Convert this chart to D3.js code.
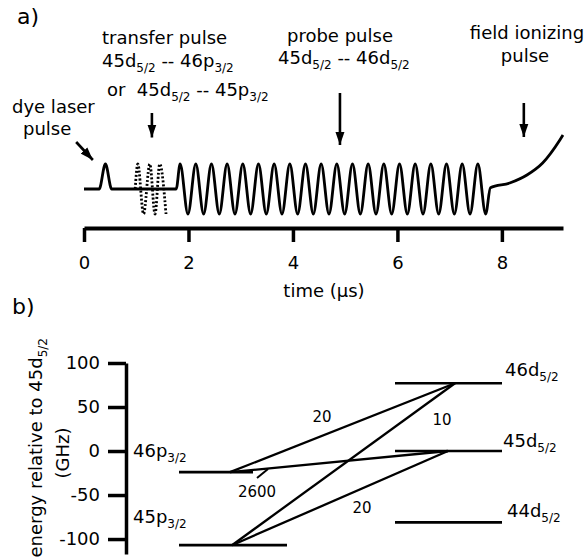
<!DOCTYPE html>
<html>
<head>
<meta charset="utf-8">
<script src="https://cdn.jsdelivr.net/npm/d3@7"></script>
<style>
body{margin:0;background:#fff;}
text{font-family:"DejaVu Sans",sans-serif;fill:#000;}
</style>
</head>
<body>
<div id="chart"></div>
<script>
// ---- panel a: pulse sequence (time in us, amplitude in arbitrary units)
var timeTicks = [0, 2, 4, 6, 8];
var dyeTrace = [[0,0],[0.29,0],[0.41,1],[0.53,0],[1.765,0]];
var transferTrace = [[0.98,0],[1.03,1],[1.14,-1],[1.26,1],[1.36,-1],[1.45,1],[1.57,-1]];
var probePeaks = [1.84,2.14,2.44,2.74,3.04,3.34,3.64,3.94,4.24,4.54,4.84,5.14,5.44,5.74,6.04,6.34,6.64,6.94,7.24,7.54];
var probeTroughs = [1.99,2.29,2.59,2.89,3.19,3.49,3.79,4.09,4.39,4.69,4.99,5.29,5.59,5.89,6.19,6.49,6.79,7.09,7.39,7.69];
var rampTrace = [[7.78,0.05],[8.15,0.24],[8.48,0.56],[8.78,1.04],[9.11,1.96],[9.17,2.16]];
// arrows: [t start, v start, t tip, v tip]
var pulseArrows = [[-0.15,1.88,0.17,1.16],[1.30,3.04,1.30,2.06],[4.90,3.84,4.90,1.76],[8.42,3.44,8.42,2.08]];

// ---- panel b: energy levels (GHz relative to 45d5/2)
var energyTicks = [-100, -50, 0, 50, 100];
var levelNames = ["46d","45d","44d","46p","45p"];
var levelSubs = ["5/2","5/2","5/2","3/2","3/2"];
var levelEnergy = [77, 0, -81, -24, -107];
var transitions = [["46p","46d"],["45p","46d"],["45p","45d"],["46p","45d"]];
var transitionLabels = ["20","10","20","2600"];

var W = 588, H = 560;
var svg = d3.select("#chart").append("svg").attr("width", W).attr("height", H);

svg.append("defs").append("marker")
    .attr("id","head")
    .attr("markerUnits","userSpaceOnUse")
    .attr("markerWidth",14).attr("markerHeight",10)
    .attr("refX",13).attr("refY",5)
    .attr("orient","auto")
  .append("path").attr("d","M0,0.5L13,5L0,9.5Z").attr("fill","#000");

// helper for text with subscripts
function subText(g, x, y, parts, size, anchor){
    var t = g.append("text").attr("x", x).attr("y", y)
        .style("font-size", size + "px").attr("text-anchor", anchor || "start")
        .style("white-space","pre");
    var prevSub = false;
    parts.forEach(function(p){
        var s = t.append("tspan").text(p[0]);
        if (p[1]) {
            s.style("font-size", "12px");
            if (!prevSub) s.attr("dy", 5);
        } else if (prevSub) {
            s.attr("dy", -5);
        }
        prevSub = p[1];
    });
    return t;
}

// ======== panel a ========
var x = d3.scaleLinear().domain([0, 9.17]).range([84, 563]);
var yw = d3.scaleLinear().domain([0, 1]).range([189, 164]);

var line = d3.line().x(function(d){return x(d[0]);}).y(function(d){return yw(d[1]);})
    .curve(d3.curveMonotoneX);

var osc = [];
probePeaks.forEach(function(p, i){
    osc.push([p, 1]);
    osc.push([probeTroughs[i], -1]);
});
var solidTrace = dyeTrace.concat(osc).concat(rampTrace);

svg.append("path").datum(solidTrace).attr("d", line)
    .attr("fill","none").attr("stroke","#000").attr("stroke-width",2.8)
    .attr("stroke-linejoin","round");

svg.append("path").datum(transferTrace).attr("d", line)
    .attr("fill","none").attr("stroke","#000").attr("stroke-width",2.8)
    .attr("stroke-dasharray","2,2");

svg.selectAll(".parrow").data(pulseArrows).enter().append("line")
    .attr("class","parrow")
    .attr("x1", function(d){return x(d[0]);})
    .attr("y1", function(d){return yw(d[1]);})
    .attr("x2", function(d){return x(d[2]);})
    .attr("y2", function(d){return yw(d[3]);})
    .attr("stroke","#000").attr("stroke-width",2.6)
    .attr("marker-end","url(#head)");

var xAxis = d3.axisBottom(x).tickValues(timeTicks).tickSize(14).tickSizeOuter(0).tickPadding(14)
    .tickFormat(function(d){return String(d);});
var gx = svg.append("g").attr("transform","translate(0,228)").call(xAxis);
gx.select(".domain").attr("stroke-width",4);
gx.selectAll(".tick line").attr("stroke-width",3.5);
gx.selectAll(".tick text").style("font-size","18px").style("font-family","DejaVu Sans");

svg.append("text").attr("x", 324).attr("y", 297).attr("text-anchor","middle")
    .style("font-size","18px").text("time (\u03bcs)");

svg.append("text").attr("x", 17).attr("y", 24).style("font-size","22px").text("a)");

// pulse annotations
svg.append("text").attr("x", 12).attr("y", 113).style("font-size","18px").text("dye laser");
svg.append("text").attr("x", 23).attr("y", 135).style("font-size","18px").text("pulse");

svg.append("text").attr("x", 102).attr("y", 44).style("font-size","18px").text("transfer pulse");
subText(svg, 102, 67, [["45d",false],["5/2",true],[" -- 46p",false],["3/2",true]], 18);
subText(svg, 107, 96, [["or  45d",false],["5/2",true],[" -- 45p",false],["3/2",true]], 18);

svg.append("text").attr("x", 287).attr("y", 42).style("font-size","18px").text("probe pulse");
subText(svg, 278, 64, [["45d",false],["5/2",true],[" -- 46d",false],["5/2",true]], 18);

svg.append("text").attr("x", 527).attr("y", 39).attr("text-anchor","middle").style("font-size","18px").text("field ionizing");
svg.append("text").attr("x", 525).attr("y", 62).attr("text-anchor","middle").style("font-size","18px").text("pulse");

// ======== panel b ========
var yE = d3.scaleLinear().domain([-117, 100]).range([554, 363]);

var yAxis = d3.axisLeft(yE).tickValues(energyTicks).tickSize(18).tickSizeOuter(0).tickPadding(8)
    .tickFormat(function(d){return String(d);});
var gy = svg.append("g").attr("transform","translate(126,0)").call(yAxis);
gy.select(".domain").attr("stroke-width",3.5);
gy.selectAll(".tick line").attr("stroke-width",3.5);
gy.selectAll(".tick text").style("font-size","18px").style("font-family","DejaVu Sans");

svg.append("text").attr("x", 12).attr("y", 314).style("font-size","22px").text("b)");

subText(svg.append("g").attr("transform","translate(42,338) rotate(-90)"), 0, 0,
    [["energy relative to 45d",false],["5/2",true]], 18, "end");
svg.append("text").attr("transform","translate(69,453) rotate(-90)")
    .attr("text-anchor","middle").style("font-size","18px").text("(GHz)");

// level layout (pixels)
var levelX0 = [395, 395, 395, 179, 179];
var levelX1 = [502, 502, 502, 253, 287];
var levelAnchor = [455, 448, 450, 230, 232];
var labelPos = [[505,376],[503,447],[507,517],[133,457],[133,523]];

var levels = levelNames.map(function(n, i){
    return {name:n, sub:levelSubs[i], e:levelEnergy[i], x0:levelX0[i], x1:levelX1[i], ax:levelAnchor[i], lp:labelPos[i]};
});
var byName = {};
levels.forEach(function(l){ byName[l.name] = l; });

svg.selectAll(".level").data(levels).enter().append("line")
    .attr("class","level")
    .attr("x1", function(d){return d.x0;}).attr("x2", function(d){return d.x1;})
    .attr("y1", function(d){return yE(d.e);}).attr("y2", function(d){return yE(d.e);})
    .attr("stroke","#000").attr("stroke-width",2.7);

levels.forEach(function(l){
    subText(svg, l.lp[0], l.lp[1], [[l.name,false],[l.sub,true]], 18);
});

svg.selectAll(".trans").data(transitions).enter().append("line")
    .attr("class","trans")
    .attr("x1", function(d){return byName[d[0]].ax;})
    .attr("y1", function(d){return yE(byName[d[0]].e);})
    .attr("x2", function(d){return byName[d[1]].ax;})
    .attr("y2", function(d){return yE(byName[d[1]].e);})
    .attr("stroke","#000").attr("stroke-width",2.3);

var transLabelPos = [[322,422],[442,425],[362,513],[257,497]];
svg.selectAll(".tlab").data(transitionLabels).enter().append("text")
    .attr("class","tlab")
    .attr("x", function(d,i){return transLabelPos[i][0];})
    .attr("y", function(d,i){return transLabelPos[i][1];})
    .attr("text-anchor","middle").style("font-size","15px")
    .text(function(d){return d;});

// pointer from "2600" to the 46p - 45d line
svg.append("line").attr("x1",257).attr("y1",478).attr("x2",268).attr("y2",469)
    .attr("stroke","#000").attr("stroke-width",2);
</script>
</body>
</html>
